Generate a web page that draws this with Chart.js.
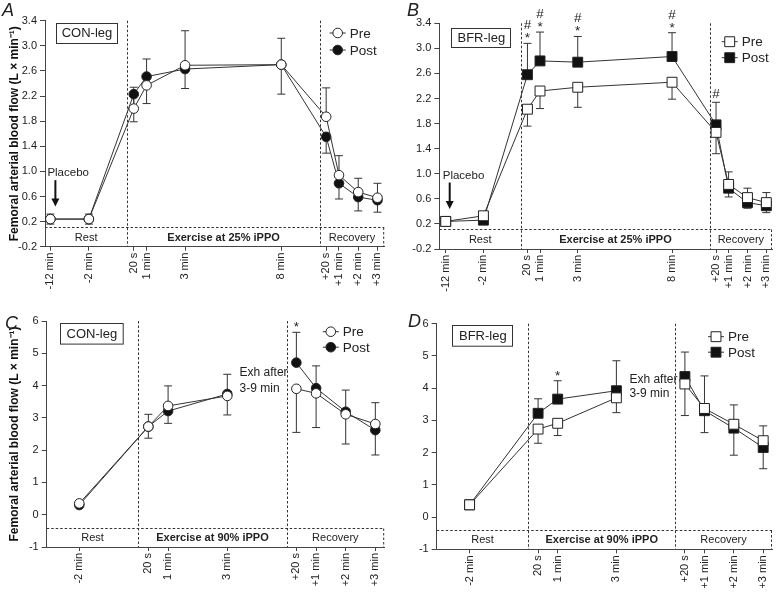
<!DOCTYPE html>
<html>
<head>
<meta charset="utf-8">
<script src="https://cdn.jsdelivr.net/npm/chart.js@4.4.0/dist/chart.umd.min.js"></script>
<style>
  body { margin: 0; background: #fff; }
  #wrap { position: relative; width: 780px; height: 593px; }
  canvas { position: absolute; }
</style>
</head>
<body>
<div id="wrap">
  <canvas id="chartA" width="390" height="292" style="left:0;top:0"></canvas>
  <canvas id="chartB" width="390" height="292" style="left:390px;top:0"></canvas>
  <canvas id="chartC" width="390" height="301" style="left:0;top:292px"></canvas>
  <canvas id="chartD" width="390" height="301" style="left:390px;top:292px"></canvas>
</div>
<script>
// time points, x = minutes from exercise start on a broken axis
const labels25 = ["-12 min", "-2 min", "20 s", "1 min", "3 min", "8 min", "+20 s", "+1 min", "+2 min", "+3 min"];
const times25 = [-4, -2, 1 / 3, 1, 3, 8, 10 + 1 / 3, 11, 12, 13];
const labels90 = ["-2 min", "20 s", "1 min", "3 min", "+20 s", "+1 min", "+2 min", "+3 min"];
const times90 = [-2, 1 / 3, 1, 3, 5 + 1 / 3, 6, 7, 8];

const yTicks25 = [-0.2, 0.2, 0.6, 1.0, 1.4, 1.8, 2.2, 2.6, 3.0, 3.4];
const yTicks90 = [-1, 0, 1, 2, 3, 4, 5, 6];

// A: CON-leg, 25% iPPO
const preA = [0.24, 0.24, 2.00, 2.37, 2.69, 2.70, 1.87, 0.94, 0.67, 0.58];
const postA = [0.24, 0.24, 2.23, 2.51, 2.63, 2.70, 1.55, 0.81, 0.59, 0.54];
const preSdA = [0.08, 0.08, 0.34, 0.42, 0.55, 0.42, 0.46, 0.31, 0.22, 0.23];
const postSdA = [0.08, 0.08, 0.44, 0.43, 0.31, 0.47, 0.26, 0.25, 0.22, 0.19];

// B: BFR-leg, 25% iPPO
const preB = [0.24, 0.33, 2.03, 2.32, 2.38, 2.46, 1.66, 0.83, 0.62, 0.54];
const postB = [0.24, 0.26, 2.58, 2.80, 2.78, 2.87, 1.78, 0.77, 0.54, 0.49];
const preSdB = [0.05, 0.05, 0.27, 0.28, 0.32, 0.27, 0.34, 0.20, 0.17, 0.16];
const postSdB = [0.05, 0.05, 0.50, 0.46, 0.41, 0.38, 0.36, 0.26, 0.23, 0.21];
const starsB = ["", "", "*", "*", "*", "*", "", "", "", ""];
const hashB = ["", "", "#", "#", "#", "#", "#", "", "", ""];

// C: CON-leg, 90% iPPO (exhaustion after 3 min, line breaks there)
const preC = [0.35, 2.73, 3.37, 3.68, 3.90, 3.76, 3.11, 2.81];
const postC = [0.30, 2.73, 3.21, 3.74, 4.71, 3.92, 3.19, 2.62];
const preSdC = [0.07, 0.36, 0.54, 0.59, 1.35, 1.06, 0.92, 0.96];
const postSdC = [0.07, 0.38, 0.78, 0.61, 0.94, 0.69, 0.67, 0.85];
const starsC = ["", "", "", "", "*", "", "", ""];

// D: BFR-leg, 90% iPPO
const preD = [0.38, 2.73, 2.91, 3.70, 4.13, 3.37, 2.88, 2.37];
const postD = [0.38, 3.22, 3.66, 3.92, 4.36, 3.30, 2.76, 2.16];
const preSdD = [0.05, 0.44, 0.38, 0.46, 0.98, 0.75, 0.96, 0.87];
const postSdD = [0.05, 0.45, 0.57, 0.93, 0.76, 1.08, 0.72, 0.67];
const starsD = ["", "", "*", "", "", "", "", ""];

const FONT = 'Arial, "Liberation Sans", Helvetica, sans-serif';
const INK = "#222";
const AXIS = "#444";
const noStars = [];

function makeDecor(cfg) {
  return {
    id: "decor",
    beforeDatasetsDraw(chart) {
      const { ctx, chartArea: a, scales: { x, y } } = chart;
      ctx.save();
      // phase box and dividers
      ctx.strokeStyle = "#333";
      ctx.lineWidth = 1;
      ctx.setLineDash([2.5, 2]);
      const yb = Math.round(y.getPixelForValue(cfg.boxTop)) + 0.5;
      ctx.beginPath();
      ctx.moveTo(a.left, yb); ctx.lineTo(a.right, yb);
      ctx.moveTo(a.right - 0.5, yb); ctx.lineTo(a.right - 0.5, a.bottom);
      cfg.splits.forEach(v => {
        const px = Math.round(x.getPixelForValue(v)) + 0.5;
        ctx.moveTo(px, a.top); ctx.lineTo(px, a.bottom);
      });
      ctx.stroke();
      ctx.setLineDash([]);
      // phase labels
      const edges = [x.min, ...cfg.splits, x.max];
      ctx.fillStyle = INK;
      ctx.textAlign = "center";
      ctx.textBaseline = "middle";
      cfg.phases.forEach((t, i) => {
        const cx = (x.getPixelForValue(edges[i]) + x.getPixelForValue(edges[i + 1])) / 2;
        ctx.font = (i === 1 ? "bold " : "") + "11px " + FONT;
        ctx.fillText(t, cx, (yb + a.bottom) / 2 + 0.5);
      });
      // error bars
      ctx.strokeStyle = "#333";
      chart.data.datasets.forEach(ds => {
        ds.data.forEach((p, i) => {
          const px = x.getPixelForValue(p.x);
          const py = y.getPixelForValue(p.y);
          const pe = y.getPixelForValue(p.y + ds.dir * ds.sd[i]);
          ctx.beginPath();
          ctx.moveTo(px, py); ctx.lineTo(px, pe);
          ctx.moveTo(px - 4, pe); ctx.lineTo(px + 4, pe);
          ctx.stroke();
        });
      });
      ctx.restore();
    },
    afterDraw(chart) {
      const { ctx, chartArea: a, scales: { x, y } } = chart;
      const ds = chart.data.datasets;
      ctx.save();
      ctx.fillStyle = INK;
      // panel letter
      ctx.font = "italic 18px " + FONT;
      ctx.textAlign = "left";
      ctx.textBaseline = "alphabetic";
      ctx.fillText(cfg.letter, cfg.letterX, cfg.letterY);
      // leg box
      const b = cfg.box;
      ctx.strokeStyle = "#333";
      ctx.lineWidth = 1;
      ctx.strokeRect(Math.round(a.left + b.x) + 0.5, Math.round(a.top + b.y) + 0.5, b.w, b.h);
      ctx.font = "13px " + FONT;
      ctx.textAlign = "center";
      ctx.textBaseline = "middle";
      ctx.fillText(b.text, a.left + b.x + b.w / 2 + 0.5, a.top + b.y + b.h / 2 + 1);
      // legend
      ds.forEach((d, i) => {
        const mx = a.right + cfg.leg.dx;
        const my = a.top + cfg.leg.dy + i * cfg.leg.gap;
        ctx.strokeStyle = "#333";
        ctx.beginPath();
        ctx.moveTo(mx - 8, my); ctx.lineTo(mx + 8, my);
        ctx.stroke();
        ctx.fillStyle = d.pointBackgroundColor;
        ctx.strokeStyle = d.pointBorderColor;
        ctx.lineWidth = 1;
        Chart.helpers.drawPoint(ctx, { pointStyle: d.pointStyle, radius: d.pointRadius, rotation: 0, borderWidth: 1 }, mx, my);
        ctx.fillStyle = INK;
        ctx.font = "13.5px " + FONT;
        ctx.textAlign = "left";
        ctx.fillText(d.label, mx + 12, my + 1);
      });
      // significance marks above the upper error bar
      const up = ds.find(d => d.dir > 0);
      ctx.font = "13.5px " + FONT;
      ctx.textAlign = "center";
      ctx.textBaseline = "alphabetic";
      up.data.forEach((p, i) => {
        const top = y.getPixelForValue(p.y + up.sd[i]);
        const px = x.getPixelForValue(p.x);
        const st = cfg.stars[i] || "";
        const hs = (cfg.hashes || [])[i] || "";
        if (st) ctx.fillText(st, px, top - 1);
        if (hs) ctx.fillText(hs, px, st ? top - 14 : top - 4);
      });
      // placebo arrow
      if (cfg.placebo) {
        const px = x.getPixelForValue(cfg.times[0]);
        ctx.font = "11.5px " + FONT;
        ctx.textAlign = "left";
        ctx.textBaseline = "middle";
        ctx.fillText("Placebo", px - 3, y.getPixelForValue(0.97));
        const ax = px + cfg.placebo.dx;
        const y1 = y.getPixelForValue(0.86);
        const y2 = y.getPixelForValue(0.44);
        ctx.strokeStyle = "#111";
        ctx.lineWidth = 2;
        ctx.beginPath();
        ctx.moveTo(ax, y1); ctx.lineTo(ax, y2 - 7);
        ctx.stroke();
        ctx.fillStyle = "#111";
        ctx.beginPath();
        ctx.moveTo(ax - 4, y2 - 8); ctx.lineTo(ax + 4, y2 - 8); ctx.lineTo(ax, y2);
        ctx.closePath();
        ctx.fill();
      }
      // exhaustion note
      if (cfg.exh) {
        const px = x.getPixelForValue(3) + cfg.exh.dx;
        ctx.fillStyle = INK;
        ctx.font = "12px " + FONT;
        ctx.textAlign = "left";
        ctx.textBaseline = "middle";
        ctx.fillText("Exh after", px, y.getPixelForValue(cfg.exh.y1));
        ctx.fillText("3-9 min", px, y.getPixelForValue(cfg.exh.y2));
      }
      ctx.restore();
    }
  };
}

function panel(id, cfg) {
  const square = cfg.square;
  const series = (label, vals, sd, dir, filled) => ({
    label,
    data: cfg.times.map((t, i) => ({ x: t, y: vals[i] })),
    sd, dir,
    borderColor: "#333",
    borderWidth: 1,
    pointStyle: square ? "rect" : "circle",
    pointRadius: square ? 7 : 4.8,
    pointHoverRadius: square ? 7 : 4.8,
    pointBackgroundColor: filled ? "#111" : "#fff",
    pointBorderColor: "#222",
    pointBorderWidth: 1,
    tension: 0,
    clip: false,
    segment: {
      borderColor: c => (c.p0DataIndex === cfg.breakAfter ? "rgba(0,0,0,0)" : undefined)
    }
  });
  new Chart(document.getElementById(id), {
    type: "line",
    data: {
      datasets: [
        series("Pre", cfg.pre, cfg.preSd, cfg.preDir, false),
        series("Post", cfg.post, cfg.postSd, -cfg.preDir, true)
      ]
    },
    options: {
      responsive: false,
      animation: false,
      devicePixelRatio: 1,
      layout: { padding: { top: cfg.padTop, right: cfg.padRight, left: 0, bottom: 0 } },
      plugins: { legend: { display: false }, tooltip: { enabled: false } },
      scales: {
        x: {
          type: "linear",
          min: cfg.xMin,
          max: cfg.xMax,
          afterBuildTicks: s => { s.ticks = cfg.times.map(v => ({ value: v })); },
          afterFit: s => { s.height = cfg.xHeight; s.paddingLeft = 0; s.paddingRight = 0; },
          ticks: {
            autoSkip: false, minRotation: 90, maxRotation: 90, padding: 2, color: INK,
            font: { size: 11, family: FONT },
            callback: (v, i) => cfg.labels[i]
          },
          grid: { drawOnChartArea: false, tickLength: 4, color: AXIS },
          border: { color: AXIS }
        },
        y: {
          min: cfg.yTicks[0],
          max: cfg.yTicks[cfg.yTicks.length - 1],
          afterBuildTicks: s => { s.ticks = cfg.yTicks.map(v => ({ value: v })); },
          afterFit: s => { s.width = cfg.yWidth; s.paddingTop = 0; s.paddingBottom = 0; },
          ticks: {
            padding: 3, color: INK, font: { size: 11, family: FONT },
            callback: v => cfg.yDigits ? v.toFixed(cfg.yDigits) : String(v)
          },
          grid: { drawOnChartArea: false, tickLength: 5, color: AXIS },
          border: { color: AXIS },
          title: {
            display: cfg.yTitle, text: "Femoral arterial blood flow (L \u00d7 min\u207b\u00b9)",
            color: "#111", font: { size: 12, weight: "bold", family: FONT },
            padding: { top: 7, bottom: 0 }
          }
        }
      }
    },
    plugins: [makeDecor(cfg)]
  });
}

const phases25 = ["Rest", "Exercise at 25% iPPO", "Recovery"];
const phases90 = ["Rest", "Exercise at 90% iPPO", "Recovery"];

panel("chartA", {
  labels: labels25, times: times25, yTicks: yTicks25, yDigits: 1,
  pre: preA, post: postA, preSd: preSdA, postSd: postSdA, preDir: 1,
  xMin: -4.28, xMax: 13.35, padTop: 20.7, padRight: 4, yWidth: 45, xHeight: 45.3, yTitle: true,
  boxTop: 0.12, splits: [0, 10], phases: phases25, breakAfter: -1,
  letter: "A", letterX: 2, letterY: 16,
  box: { x: 11, y: 2, w: 61, h: 20, text: "CON-leg" },
  leg: { dx: -46.5, dy: 12.3, gap: 17 },
  stars: noStars, placebo: { dx: 5 }
});

panel("chartB", {
  labels: labels25, times: times25, yTicks: yTicks25, yDigits: 1, square: true,
  pre: preB, post: postB, preSd: preSdB, postSd: postSdB, preDir: -1,
  xMin: -4.34, xMax: 13.3, padTop: 23.3, padRight: 1, yWidth: 49.3, xHeight: 43, yTitle: false,
  boxTop: 0.12, splits: [0, 10], phases: phases25, breakAfter: -1,
  letter: "B", letterX: 17, letterY: 16,
  box: { x: 12, y: 5, w: 59, h: 19, text: "BFR-leg" },
  leg: { dx: -42.3, dy: 18.4, gap: 16 },
  stars: starsB, hashes: hashB, placebo: { dx: 4 }
});

panel("chartC", {
  labels: labels90, times: times90, yTicks: yTicks90, yDigits: 0,
  pre: preC, post: postC, preSd: preSdC, postSd: postSdC, preDir: -1,
  xMin: -3.1, xMax: 8.3, padTop: 29, padRight: 3.3, yWidth: 46.7, xHeight: 46, yTitle: true,
  boxTop: -0.4, splits: [0, 5], phases: phases90, breakAfter: 3,
  letter: "C", letterX: 5, letterY: 37,
  box: { x: 13.3, y: 1.7, w: 62.7, h: 20.6, text: "CON-leg" },
  leg: { dx: -53.4, dy: 10.7, gap: 15.5 },
  stars: starsC, exh: { dx: 12.3, y1: 4.4, y2: 3.9 }
});

panel("chartD", {
  labels: labels90, times: times90, yTicks: yTicks90, yDigits: 0, square: true,
  pre: preD, post: postD, preSd: preSdD, postSd: postSdD, preDir: -1,
  xMin: -3.12, xMax: 8.3, padTop: 31.7, padRight: 1, yWidth: 46.7, xHeight: 43.7, yTitle: false,
  boxTop: -0.4, splits: [0, 5], phases: phases90, breakAfter: 3,
  letter: "D", letterX: 18, letterY: 35,
  box: { x: 15.6, y: 1.6, w: 60, h: 20.7, text: "BFR-leg" },
  leg: { dx: -56, dy: 13, gap: 15.5 },
  stars: starsD, exh: { dx: 13, y1: 4.25, y2: 3.84 }
});
</script>
</body>
</html>
